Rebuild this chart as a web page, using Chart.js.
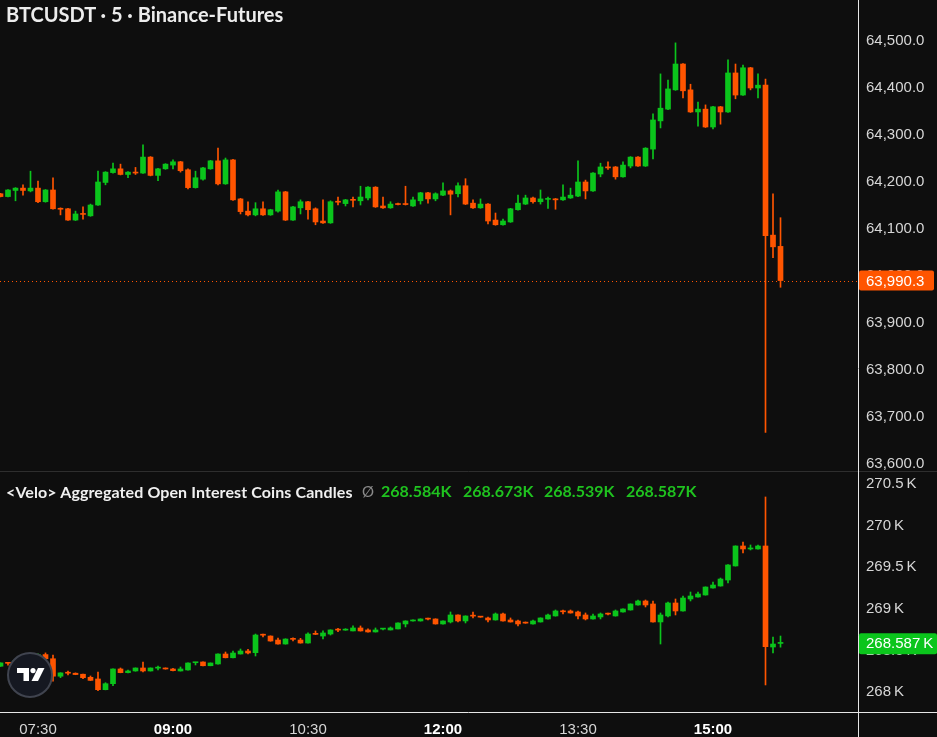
<!DOCTYPE html>
<html><head><meta charset="utf-8">
<script src="https://cdn.jsdelivr.net/npm/chart.js@4.4.1/dist/chart.umd.min.js"></script>
<style>
html,body{margin:0;padding:0;background:#0e0e0e;}
#wrap{position:relative;width:937px;height:737px;overflow:hidden;background:#0e0e0e;}
#c{position:absolute;left:0;top:0;}
.t{position:absolute;white-space:nowrap;font-family:Lato,"Open Sans",sans-serif;}
#title{left:6px;top:2px;color:#ececec;font-weight:700;font-size:20px;}
#oiTitle{left:6px;top:482px;color:#f0f0f0;font-weight:700;font-size:16px;letter-spacing:0.1px;}
#oiSym{left:362px;top:482px;color:#8a8a8a;font-size:15px;}
.v{top:481px;color:#1fc21f;font-weight:700;font-size:16px;}
#logo{position:absolute;left:6px;top:651px;}
</style></head>
<body><div id="wrap">
<canvas id="c" width="937" height="737"></canvas>
<div class="t" id="title">BTCUSDT · 5 · Binance-Futures</div>
<div class="t" id="oiTitle">&lt;Velo&gt; Aggregated Open Interest Coins Candles</div>
<div class="t" id="oiSym">Ø</div>
<div class="t v" id="vO" style="left:381px"></div>
<div class="t v" id="vH" style="left:463px"></div>
<div class="t v" id="vL" style="left:544px"></div>
<div class="t v" id="vC" style="left:626px"></div>
<svg id="logo" width="48" height="48" viewBox="0 0 48 48">
<circle cx="24" cy="24" r="22" fill="#151821" stroke="#40444f" stroke-width="2"/>
<path d="M11 17h12v13h-5.5v-8H11z" fill="#fff"/>
<circle cx="27" cy="19.6" r="2.6" fill="#fff"/>
<path d="M32 17h6.5l-6.5 13h-6.5z" fill="#fff"/>
</svg>
</div>
<script>
const times = [
 '07:05','07:10','07:15','07:20','07:25','07:30','07:35','07:40','07:45','07:50','07:55',
 '08:00','08:05','08:10','08:15','08:20','08:25','08:30','08:35','08:40','08:45','08:50','08:55',
 '09:00','09:05','09:10','09:15','09:20','09:25','09:30','09:35','09:40','09:45','09:50','09:55',
 '10:00','10:05','10:10','10:15','10:20','10:25','10:30','10:35','10:40','10:45','10:50','10:55',
 '11:00','11:05','11:10','11:15','11:20','11:25','11:30','11:35','11:40','11:45','11:50','11:55',
 '12:00','12:05','12:10','12:15','12:20','12:25','12:30','12:35','12:40','12:45','12:50','12:55',
 '13:00','13:05','13:10','13:15','13:20','13:25','13:30','13:35','13:40','13:45','13:50','13:55',
 '14:00','14:05','14:10','14:15','14:20','14:25','14:30','14:35','14:40','14:45','14:50','14:55',
 '15:00','15:05','15:10','15:15','15:20','15:25','15:30','15:35','15:40','15:45'];
const timeTickLabels = ['07:30','09:00','10:30','12:00','13:30','15:00'];
const boldTimeTicks = ['09:00','12:00','15:00'];
const priceTicks = [63600,63700,63800,63900,64000,64100,64200,64300,64400,64500];
const oiTicks = [268,268.5,269,269.5,270,270.5];

const priceOpen = [64175,64169,64182,64187,64181,64187,64158,64183,64144,64143,64119,64133,64128,64151,64199,64220,64228,64216,64221,64219,64253,64214,64228,64236,64243,64226,64188,64206,64228,64245,64196,64247,64164,64138,64130,64143,64130,64138,64179,64119,64145,64158,64143,64117,64113,64159,64154,64163,64160,64166,64189,64149,64145,64154,64154,64149,64160,64177,64164,64172,64181,64175,64192,64155,64145,64153,64119,64109,64115,64141,64153,64166,64158,64163,64164,64162,64166,64170,64200,64181,64217,64232,64232,64211,64234,64253,64234,64270,64330,64355,64396,64451,64396,64349,64355,64317,64360,64349,64432,64385,64443,64400,64406,64087,64063];
const priceHigh = [64176,64184,64188,64194,64223,64202,64184,64209,64145,64144,64138,64147,64153,64223,64222,64240,64238,64222,64231,64279,64254,64229,64239,64247,64244,64228,64223,64231,64246,64272,64251,64248,64165,64158,64156,64158,64142,64183,64180,64148,64162,64159,64145,64162,64160,64168,64163,64168,64191,64190,64190,64168,64158,64155,64191,64168,64178,64178,64177,64198,64183,64198,64207,64162,64164,64154,64134,64121,64144,64172,64172,64168,64183,64168,64165,64194,64187,64245,64204,64220,64240,64243,64233,64243,64254,64254,64273,64345,64430,64417,64496,64452,64408,64370,64364,64361,64361,64460,64451,64449,64444,64430,64419,64175,64124];
const priceLow = [64168,64168,64160,64172,64179,64156,64157,64142,64130,64118,64118,64121,64127,64150,64194,64219,64215,64209,64216,64218,64213,64203,64227,64228,64221,64185,64187,64204,64227,64194,64195,64161,64132,64128,64128,64129,64129,64136,64118,64118,64132,64121,64109,64112,64112,64151,64149,64147,64151,64162,64146,64144,64144,64151,64151,64148,64153,64155,64160,64171,64130,64168,64152,64144,64144,64111,64108,64108,64114,64140,64152,64155,64153,64144,64142,64161,64165,64169,64164,64180,64211,64227,64206,64210,64230,64233,64233,64249,64315,64354,64395,64379,64348,64319,64316,64313,64323,64348,64377,64384,64396,64379,63667,64039,63976];
const priceClose = [64169,64183,64187,64182,64187,64158,64183,64143,64142,64119,64132,64131,64151,64200,64221,64228,64216,64221,64219,64253,64214,64228,64238,64243,64224,64188,64209,64230,64245,64196,64247,64162,64137,64130,64143,64130,64141,64179,64119,64147,64158,64141,64115,64113,64158,64157,64162,64161,64168,64189,64147,64145,64153,64152,64152,64162,64177,64164,64175,64181,64174,64192,64153,64145,64153,64117,64109,64117,64143,64155,64166,64158,64164,64164,64162,64168,64172,64200,64181,64219,64232,64230,64211,64236,64253,64234,64272,64332,64357,64398,64451,64394,64349,64355,64317,64360,64349,64432,64385,64443,64400,64406,64086,64062,63990.3];

const oiOpen = [268.310,268.350,268.345,268.380,268.370,268.400,268.450,268.400,268.190,268.230,268.226,268.214,268.177,268.157,268.028,268.100,268.277,268.233,268.253,268.289,268.253,268.287,268.289,268.277,268.253,268.265,268.352,268.361,268.316,268.337,268.457,268.412,268.457,268.493,268.473,268.687,268.673,268.625,268.577,268.637,268.625,268.589,268.697,268.673,268.697,268.748,268.744,268.734,268.770,268.746,268.722,268.756,268.746,268.758,268.818,268.854,268.854,268.880,268.878,268.818,268.842,268.926,268.854,268.916,268.904,268.890,268.866,268.938,268.866,268.854,268.832,268.818,268.842,268.878,268.914,268.968,268.974,268.962,268.926,268.878,268.902,268.940,268.914,268.962,268.986,269.046,269.094,269.058,268.842,268.914,269.070,268.974,269.118,269.142,269.166,269.250,269.274,269.346,269.515,269.755,269.719,269.719,269.755,268.541,268.584];
const oiHigh = [268.352,268.352,268.390,268.392,268.410,268.460,268.470,268.445,268.232,268.253,268.230,268.215,268.193,268.241,268.112,268.279,268.289,268.265,268.290,268.361,268.290,268.313,268.290,268.286,268.301,268.350,268.358,268.362,268.350,268.458,268.481,268.493,268.517,268.513,268.697,268.697,268.675,268.649,268.640,268.652,268.645,268.710,268.734,268.734,268.748,268.766,268.761,268.794,268.794,268.758,268.770,268.762,268.782,268.832,268.856,268.868,268.880,268.890,268.880,268.856,268.962,268.928,268.916,268.962,268.905,268.902,268.950,268.950,268.890,268.866,268.842,268.866,268.892,268.938,268.986,268.986,268.986,268.974,268.950,268.938,268.950,268.950,268.986,269.000,269.060,269.106,269.106,269.094,268.950,269.082,269.118,269.154,269.202,269.202,269.264,269.322,269.370,269.530,269.757,269.803,269.767,269.767,270.344,268.661,268.673];
const oiLow = [268.308,268.322,268.340,268.360,268.365,268.395,268.395,268.130,268.173,268.205,268.208,268.160,268.138,268.016,268.026,268.076,268.231,268.231,268.250,268.241,268.252,268.265,268.275,268.255,268.252,268.264,268.325,268.315,268.315,268.336,268.410,268.410,268.456,268.457,268.433,268.661,268.610,268.575,268.575,268.613,268.587,268.587,268.690,268.637,268.685,268.726,268.742,268.733,268.732,268.720,268.720,268.746,268.745,268.757,268.782,268.852,268.852,268.866,268.816,268.816,268.830,268.842,268.830,268.890,268.898,268.842,268.864,268.852,268.840,268.794,268.826,268.816,268.840,268.876,268.912,268.938,268.948,268.878,268.866,268.876,268.878,268.926,268.912,268.960,268.984,269.044,269.022,268.840,268.577,268.902,268.926,268.972,269.094,269.140,269.164,269.248,269.272,269.310,269.513,269.671,269.707,269.717,268.085,268.469,268.539];
const oiClose = [268.350,268.345,268.380,268.370,268.400,268.450,268.400,268.190,268.230,268.226,268.210,268.172,268.140,268.028,268.100,268.277,268.233,268.253,268.289,268.253,268.289,268.289,268.277,268.257,268.277,268.349,268.357,268.316,268.349,268.457,268.412,268.469,268.493,268.469,268.685,268.683,268.613,268.577,268.637,268.633,268.589,268.697,268.693,268.710,268.746,268.744,268.748,268.770,268.734,268.722,268.746,268.760,268.770,268.830,268.854,268.866,268.878,268.876,268.818,268.854,268.926,268.854,268.914,268.912,268.900,268.866,268.938,268.854,268.842,268.818,268.828,268.854,268.890,268.926,268.974,268.964,268.950,268.914,268.878,268.914,268.938,268.936,268.974,268.998,269.058,269.094,269.046,268.842,268.926,269.070,268.974,269.130,269.154,269.178,269.262,269.286,269.358,269.527,269.755,269.719,269.731,269.755,268.545,268.577,268.587];

const UP = '#0bc51c', DOWN = '#ff5500';
const AXIS_FONT = 'Liberation Sans, Arial, sans-serif';
const last = priceClose.length - 1;

function colorsOf(o, c){ return o.map((v,i)=> c[i] >= v ? UP : DOWN); }
function rangeData(a, b){ return a.map((v,i)=>({x:i, y:[a[i], b[i]]})); }
const priceColors = colorsOf(priceOpen, priceClose);
const oiColors = colorsOf(oiOpen, oiClose);

const fmtK = v => v.toFixed(3) + 'K';
document.getElementById('vO').textContent = fmtK(oiOpen[last]);
document.getElementById('vH').textContent = fmtK(oiHigh[last]);
document.getElementById('vL').textContent = fmtK(oiLow[last]);
document.getElementById('vC').textContent = fmtK(oiClose[last]);

function roundRect(ctx,x,y,w,h,r){ctx.beginPath();ctx.moveTo(x+r,y);ctx.lineTo(x+w-r,y);ctx.quadraticCurveTo(x+w,y,x+w,y+r);ctx.lineTo(x+w,y+h-r);ctx.quadraticCurveTo(x+w,y+h,x+w-r,y+h);ctx.lineTo(x+r,y+h);ctx.quadraticCurveTo(x,y+h,x,y+h-r);ctx.lineTo(x,y+r);ctx.quadraticCurveTo(x,y,x+r,y);ctx.closePath();}

const isBold = c => !!(c && c.tick && boldTimeTicks.includes(times[c.tick.value]));
const noPad = s => { s.paddingTop = 0; s.paddingBottom = 0; s.paddingLeft = 0; s.paddingRight = 0; };

const overlay = {
  id:'overlay',
  beforeDatasetsDraw(chart){
    const ctx = chart.ctx, a = chart.chartArea, ys = chart.scales.y;
    const py = Math.round(ys.getPixelForValue(priceClose[last])) + 0.5;
    ctx.save();
    ctx.strokeStyle = DOWN; ctx.lineWidth = 1; ctx.setLineDash([1,3]);
    ctx.beginPath(); ctx.moveTo(a.left, py); ctx.lineTo(a.right, py); ctx.stroke();
    ctx.restore();
  },
  afterDraw(chart){
    const ctx = chart.ctx, a = chart.chartArea, ys = chart.scales.y, y2 = chart.scales.y2;
    ctx.save();
    ctx.strokeStyle = '#2e2e2e'; ctx.lineWidth = 1;
    ctx.beginPath(); ctx.moveTo(0, Math.round(ys.bottom)-0.5); ctx.lineTo(chart.width, Math.round(ys.bottom)-0.5); ctx.stroke();
    ctx.strokeStyle = '#e6e6e6';
    ctx.beginPath(); ctx.moveTo(Math.round(a.right)+0.5, 0); ctx.lineTo(Math.round(a.right)+0.5, chart.height); ctx.stroke();
    ctx.beginPath(); ctx.moveTo(0, Math.round(a.bottom)+0.5); ctx.lineTo(chart.width, Math.round(a.bottom)+0.5); ctx.stroke();
    ctx.font = '15px ' + AXIS_FONT; ctx.textBaseline = 'middle'; ctx.textAlign = 'left';
    const py = ys.getPixelForValue(priceClose[last]);
    ctx.fillStyle = DOWN; roundRect(ctx, a.right+1, py-10, 75, 20, 2); ctx.fill();
    ctx.fillStyle = '#ffffff';
    ctx.fillText(priceClose[last].toLocaleString('en-US',{minimumFractionDigits:1,maximumFractionDigits:1}), a.right+8, py+1);
    const oy = y2.getPixelForValue(oiClose[last]);
    ctx.fillStyle = UP; roundRect(ctx, a.right+1, oy-10, 78, 21, 2); ctx.fill();
    ctx.fillStyle = '#ffffff';
    ctx.fillText(oiClose[last].toFixed(3) + '\u2009K', a.right+8, oy+1);
    ctx.restore();
  }
};

const tickFont = { family: AXIS_FONT, size: 15 };
new Chart(document.getElementById('c'), {
  type: 'bar',
  data: { datasets: [
    { data: rangeData(priceLow, priceHigh), yAxisID:'y', backgroundColor: priceColors, barThickness:1, grouped:false, borderWidth:0 },
    { data: rangeData(priceOpen, priceClose), yAxisID:'y', backgroundColor: priceColors, barThickness:5, grouped:false, borderWidth:0, minBarLength:1 },
    { data: rangeData(oiLow, oiHigh), yAxisID:'y2', backgroundColor: oiColors, barThickness:1, grouped:false, borderWidth:0 },
    { data: rangeData(oiOpen, oiClose), yAxisID:'y2', backgroundColor: oiColors, barThickness:5, grouped:false, borderWidth:0, minBarLength:1 }
  ]},
  options: {
    responsive:false, animation:false, devicePixelRatio:1, events:[],
    layout:{ padding:0 },
    plugins:{ legend:{display:false}, tooltip:{enabled:false} },
    scales:{
      x:{ type:'linear', min:-0.0667, max:114.333, offset:false,
          grid:{display:false, drawTicks:false}, border:{display:false},
          afterBuildTicks: s => { s.ticks = timeTickLabels.map(t => ({value: times.indexOf(t)})); },
          afterFit: s => { s.height = 25; noPad(s); },
          ticks:{ autoSkip:false, maxRotation:0, padding:9,
                  color: c => isBold(c) ? '#ffffff' : '#d6d6d6',
                  font: c => ({ family: AXIS_FONT, size:15, weight: isBold(c) ? 'bold' : 'normal' }),
                  callback: v => times[v] } },
      y:{ type:'linear', position:'right', stack:'panes', stackWeight:472, min:63583, max:64587.2,
          grid:{display:false, drawTicks:false}, border:{display:false},
          afterBuildTicks: s => { s.ticks = priceTicks.map(v => ({value:v})); },
          afterFit: s => { s.width = 79; noPad(s); },
          ticks:{ padding:8, color:'#d6d6d6', font: tickFont,
                  callback: v => v.toLocaleString('en-US',{minimumFractionDigits:1,maximumFractionDigits:1}) } },
      y2:{ type:'linear', position:'right', stack:'panes', stackWeight:240, min:267.760, max:270.644,
          grid:{display:false, drawTicks:false}, border:{display:false},
          afterBuildTicks: s => { s.ticks = oiTicks.map(v => ({value:v})); },
          afterFit: s => { s.width = 79; noPad(s); },
          ticks:{ padding:8, color:'#d6d6d6', font: tickFont,
                  callback: v => (Number.isInteger(v) ? v.toFixed(0) : v.toFixed(1)) + '\u2009K' } }
    }
  },
  plugins:[overlay]
});
</script>
</body></html>
